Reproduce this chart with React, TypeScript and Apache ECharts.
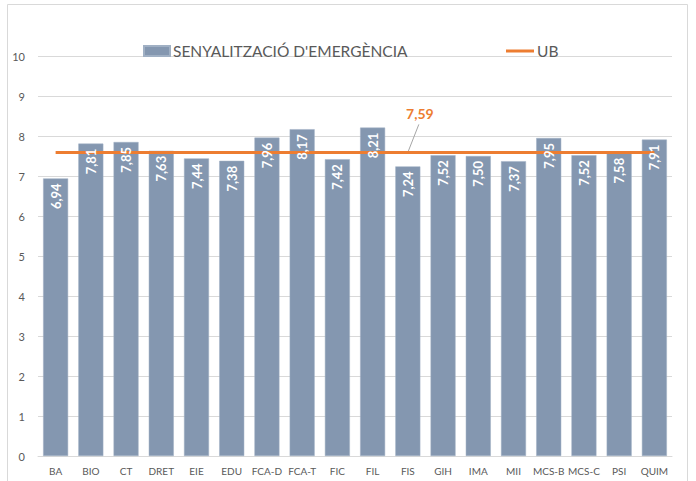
import React, { useEffect, useRef } from "react";
import * as echarts from "echarts";

const categories = ["BA", "BIO", "CT", "DRET", "EIE", "EDU", "FCA-D", "FCA-T", "FIC", "FIL", "FIS", "GIH", "IMA", "MII", "MCS-B", "MCS-C", "PSI", "QUIM"];
const senyalitzacio = [6.94, 7.81, 7.85, 7.63, 7.44, 7.38, 7.96, 8.17, 7.42, 8.21, 7.24, 7.52, 7.5, 7.37, 7.95, 7.52, 7.58, 7.91];
const ubValue = 7.59;
const ubLabelIndex = 10;
const yTicks = { min: 0, max: 10, interval: 1 };

const FONT = "Lato, 'Open Sans', sans-serif";
const fmt = (v: number) => v.toFixed(2).replace(".", ",");

export default function App() {
  const ref = useRef<HTMLDivElement>(null);
  useEffect(() => {
    document.body.style.margin = "0";
    const chart = echarts.init(ref.current!, null, { renderer: "svg" });
    const ubData = categories.map((_, i) =>
      i === ubLabelIndex
        ? {
            value: ubValue,
            label: {
              show: true,
              position: "top",
              formatter: () => fmt(ubValue),
              color: "#ED7D31",
              fontWeight: "bold",
              fontSize: 14,
              fontFamily: FONT,
            },
          }
        : ubValue
    );
    const legendText = { fontSize: 15.5, color: "#595959", fontFamily: FONT, padding: [0, 0, 0, -2] };
    chart.setOption({
      animation: false,
      textStyle: { fontFamily: FONT },
      legend: [
        {
          data: [{ name: "SENYALITZACIÓ D'EMERGÈNCIA", icon: "rect" }],
          left: 138,
          top: 38,
          itemWidth: 26,
          itemHeight: 10,
          textStyle: legendText,
        },
        {
          data: [{ name: "UB", icon: "rect" }],
          left: 501,
          top: 38,
          itemWidth: 28,
          itemHeight: 3,
          textStyle: legendText,
        },
      ],
      grid: { left: 38, right: 24, top: 56, bottom: 25 },
      xAxis: {
        type: "category",
        data: categories,
        axisLine: { lineStyle: { color: "#D9D9D9" } },
        axisTick: { show: false },
        axisLabel: { color: "#595959", fontSize: 10, margin: 10, interval: 0, fontFamily: FONT },
      },
      yAxis: {
        type: "value",
        min: yTicks.min,
        max: yTicks.max,
        interval: yTicks.interval,
        axisLine: { show: false },
        axisTick: { show: false },
        splitLine: { lineStyle: { color: "#D9D9D9" } },
        axisLabel: { color: "#595959", fontSize: 11, margin: 13, fontFamily: FONT },
      },
      series: [
        {
          name: "SENYALITZACIÓ D'EMERGÈNCIA",
          type: "bar",
          data: senyalitzacio,
          barWidth: 25,
          z: 2,
          itemStyle: { color: "#8497B0", borderColor: "#A0B0C4", borderWidth: 0.5 },
        },
        {
          name: "UB",
          type: "line",
          data: ubData,
          symbol: "circle",
          symbolSize: 0,
          showSymbol: true,
          lineStyle: { color: "#ED7D31", width: 3 },
          itemStyle: { color: "#ED7D31" },
          z: 3,
          labelLayout: { dx: 12, dy: -27 },
        },
        {
          name: "labels",
          type: "bar",
          data: senyalitzacio,
          barWidth: 25,
          barGap: "-100%",
          z: 4,
          silent: true,
          itemStyle: { color: "transparent" },
          label: {
            show: true,
            position: "insideTop",
            rotate: 90,
            align: "right",
            verticalAlign: "middle",
            distance: 5,
            color: "#FFFFFF",
            fontWeight: "bold",
            fontSize: 13,
            fontFamily: FONT,
            formatter: (p: any) => fmt(p.value),
          },
        },
      ],
    });
    const pt = chart.convertToPixel({ seriesIndex: 1 }, [ubLabelIndex, ubValue]) as number[];
    chart.setOption({
      graphic: [
        {
          type: "rect",
          shape: { x: 7.5, y: 4.5, width: 680, height: 500 },
          style: { fill: "none", stroke: "#D9D9D9", lineWidth: 1 },
          silent: true,
        },
        {
          type: "line",
          shape: { x1: pt[0], y1: pt[1], x2: pt[0] + 11, y2: pt[1] - 28 },
          style: { stroke: "#A6A6A6", lineWidth: 1 },
          silent: true,
          z: 2,
        },
      ],
    });
    return () => chart.dispose();
  }, []);
  return <div ref={ref} style={{ width: 696, height: 481 }} />;
}
